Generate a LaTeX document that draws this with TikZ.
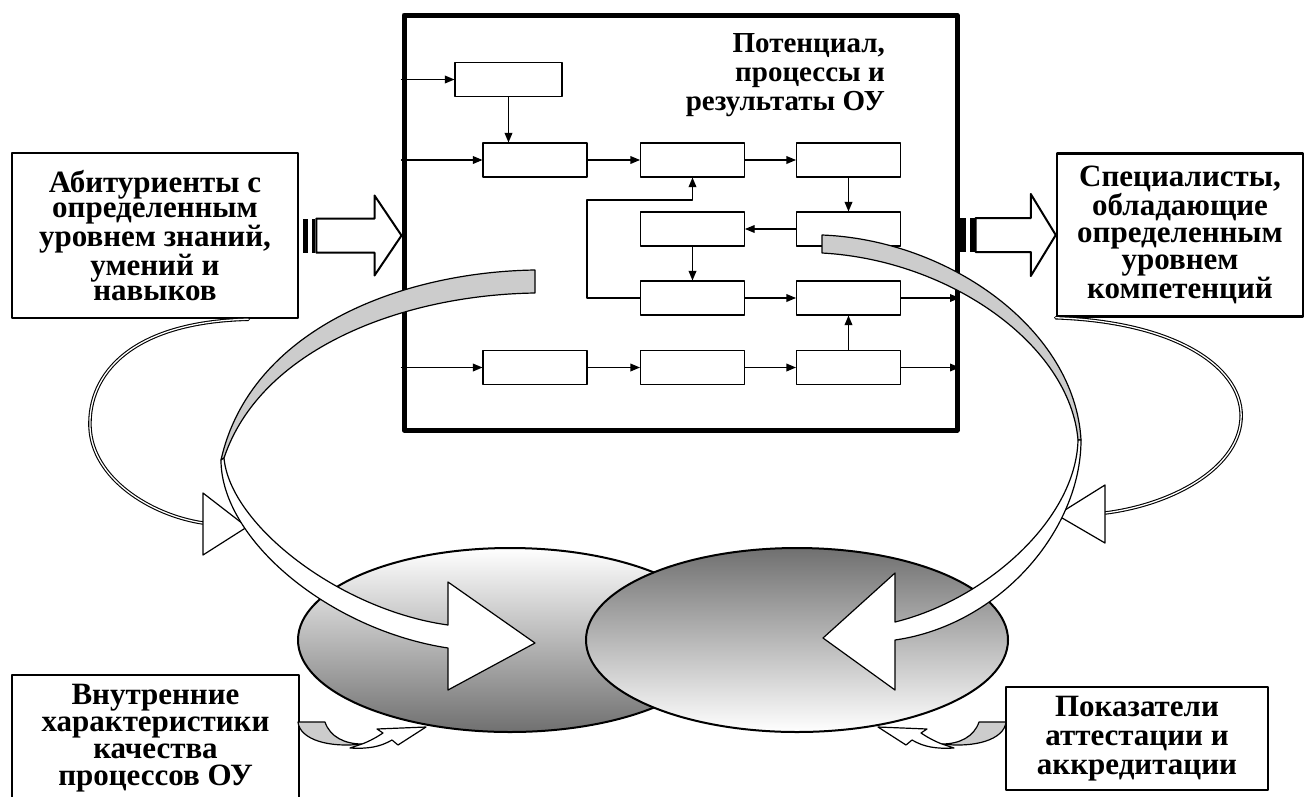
\documentclass[tikz,border=0pt]{standalone}
\usepackage{fontspec}
\setmainfont{Liberation Serif}
\usepackage{tikz}
\usetikzlibrary{arrows,calc,shapes.geometric}

\definecolor{backgray}{RGB}{204,204,204}
\definecolor{shadegray}{RGB}{112,112,112}

\tikzset{
  blk/.style={draw,line width=1.2pt,minimum width=104pt,minimum height=34pt,inner sep=0pt},
  lbl/.style={font=\bfseries\fontsize{31pt}{25pt}\selectfont,align=center,inner sep=0pt},
  sidebox/.style={lbl,draw,line width=2.5pt},
  loop/.style={line width=1.2pt},
  thin/.style={line width=1.1pt,double=white,double distance=1.3pt}
}

\begin{document}
\begin{tikzpicture}[line cap=round,line join=round,>=triangle 45,x=1pt,y=-1pt]
\useasboundingbox (0,0) rectangle (1309,796);
\clip (0,0) rectangle (1309,796);

\node[draw,line width=5pt,minimum width=553pt,minimum height=415pt] (main) at (680.5,222.5) {};
\node[lbl,align=right,anchor=north east,font=\bfseries\fontsize{29pt}{29pt}\selectfont] (title) at (885,33) {Потенциал,\\процессы и\\результаты ОУ};

\node[blk,minimum width=107pt] (ba) at (508.5,79.5) {};
\node[blk] (b11) at (535,160) {};
\node[blk] (b12) at (692.5,160) {};
\node[blk] (b13) at (848.5,160) {};
\node[blk] (b22) at (692.5,229) {};
\node[blk] (b23) at (848.5,229) {};
\node[blk] (b32) at (692.5,298) {};
\node[blk] (b33) at (848.5,298) {};
\node[blk] (b41) at (535,367.5) {};
\node[blk] (b42) at (692.5,367.5) {};
\node[blk] (b43) at (848.5,367.5) {};
\coordinate (turn) at (587,200);

\begin{scope}[line width=1.2pt]
\draw[->] (main.west |- ba) -- (ba);
\draw[->] (main.west |- b11) -- (b11);
\draw[->] (main.west |- b41) -- (b41);
\draw[->] (ba) -- (ba |- b11.north);
\draw[->] (b11) -- (b12);
\draw[->] (b12) -- (b13);
\draw[->] (b13) -- (b23);
\draw[->] (b23) -- (b22);
\draw[->] (b22) -- (b32);
\draw[->] (b32.west) -| (turn) -| (b12.south);
\draw[->] (b32) -- (b33);
\draw[->] (b43) -- (b33);
\draw[->] (b41) -- (b42);
\draw[->] (b42) -- (b43);
\draw[->] (b33) -- (main.east |- b33);
\draw[->] (b43) -- (main.east |- b43);
\end{scope}

\node[sidebox,minimum width=286pt,minimum height=165pt] (abit) at (155,235.5) {Абитуриенты с\\определенным\\уровнем знаний,\\умений и\\навыков};
\node[sidebox,minimum width=246pt,minimum height=163pt,font=\bfseries\fontsize{31pt}{27pt}\selectfont] (spec) at (1180,235) {Специалисты,\\обладающие\\определенным\\уровнем\\компетенций};
\node[sidebox,line width=1.5pt,minimum width=287pt,minimum height=126pt,font=\bfseries\fontsize{31pt}{27pt}\selectfont] (inner) at (155.5,738) {Внутренние\\характеристики\\качества\\процессов ОУ};
\node[sidebox,line width=1.5pt,minimum width=262pt,minimum height=103pt,font=\bfseries\fontsize{31pt}{29pt}\selectfont] (rate) at (1137,738.5) {Показатели\\аттестации и\\аккредитации};

\fill ($(abit.east)+(4,-17)$) rectangle ($(abit.east)+(9,17)$);
\fill ($(abit.east)+(13,-17)$) rectangle ($(abit.east)+(16,17)$);
\draw[line width=2pt,fill=white] ($(abit.east)+(17,-17)$) -- ($(abit.east -| main.west)+(-27,-17)$) -- ($(abit.east -| main.west)+(-27,-40)$) -- (abit.east -| main.west) -- ($(abit.east -| main.west)+(-27,40)$) -- ($(abit.east -| main.west)+(-27,17)$) -- ($(abit.east)+(17,17)$) -- cycle;
\fill ($(main.east |- spec.west)+(0,-17)$) rectangle ($(main.east |- spec.west)+(6,17)$);
\fill ($(main.east |- spec.west)+(10,-17)$) rectangle ($(main.east |- spec.west)+(15,17)$);
\draw[line width=2pt,fill=white] ($(main.east |- spec.west)+(16,-17)$) -- ($(spec.west)+(-25,-17)$) -- ($(spec.west)+(-25,-41)$) -- (spec.west) -- ($(spec.west)+(-25,41)$) -- ($(spec.west)+(-25,17)$) -- ($(main.east |- spec.west)+(16,17)$) -- cycle;

\draw[loop,fill=backgray] (535,270) .. controls (400,272) and (250,330) .. (221,460) -- (224,458) .. controls (260,350) and (400,295) .. (535,293) -- cycle;
\draw[loop,fill=backgray] (822,235) .. controls (950,240) and (1075,330) .. (1081,440) -- (1078,440) .. controls (1070,345) and (950,260) .. (822,253) -- cycle;

\coordinate (inL) at (247,527);
\coordinate (inR) at (1057,515);
\draw[thin] ($(abit.south east)+(-51,0)$) .. controls (130,322) and (88,375) .. (90,427) .. controls (92,478) and (150,515) .. (203,523);
\draw[line width=1.2pt,fill=white] (203,493) -- (inL) -- (203,555) -- cycle;
\draw[thin] (spec.south west) .. controls (1180,322) and (1245,370) .. (1241,420) .. controls (1237,470) and (1170,505) .. (1105,513);
\draw[line width=1.2pt,fill=white] (1105,485) -- (inR) -- (1105,543) -- cycle;

\draw[loop,fill=backgray] (298,722) -- (325,722) .. controls (330,737) and (345,744) .. (362,744) .. controls (330,748) and (300,740) .. (298,722) -- cycle;
\draw[loop,fill=white] (362,744) .. controls (370,741) and (377,737) .. (383,733) -- (377,729) -- (426,727) -- (398,745) -- (392,740) .. controls (380,747) and (368,749) .. (350,748) -- cycle;
\draw[loop,fill=backgray] (1006,722) -- (979,722) .. controls (974,737) and (959,744) .. (942,744) .. controls (974,748) and (1004,740) .. (1006,722) -- cycle;
\draw[loop,fill=white] (942,744) .. controls (934,741) and (927,737) .. (921,733) -- (927,729) -- (878,727) -- (906,745) -- (912,740) .. controls (924,747) and (936,749) .. (954,748) -- cycle;

\node[draw,ellipse,line width=2pt,minimum width=424pt,minimum height=184pt,top color=white,bottom color=shadegray] (ellL) at (510,640) {};
\node[draw,ellipse,line width=2pt,minimum width=422pt,minimum height=184pt,top color=shadegray,bottom color=white] (ellR) at (797,640) {};

\draw[loop,fill=white] (221,460) .. controls (221,540) and (330,630) .. (448,648) -- (448,690) -- (535,643) -- (448,582) -- (448,625) .. controls (340,610) and (230,525) .. (224,458) -- cycle;
\draw[loop,fill=white] (1081,440) .. controls (1081,530) and (1000,625) .. (895,640) -- (895,690) -- (823,638) -- (895,573) -- (895,622) .. controls (985,600) and (1076,520) .. (1078,440) -- cycle;
\end{tikzpicture}
\end{document}
